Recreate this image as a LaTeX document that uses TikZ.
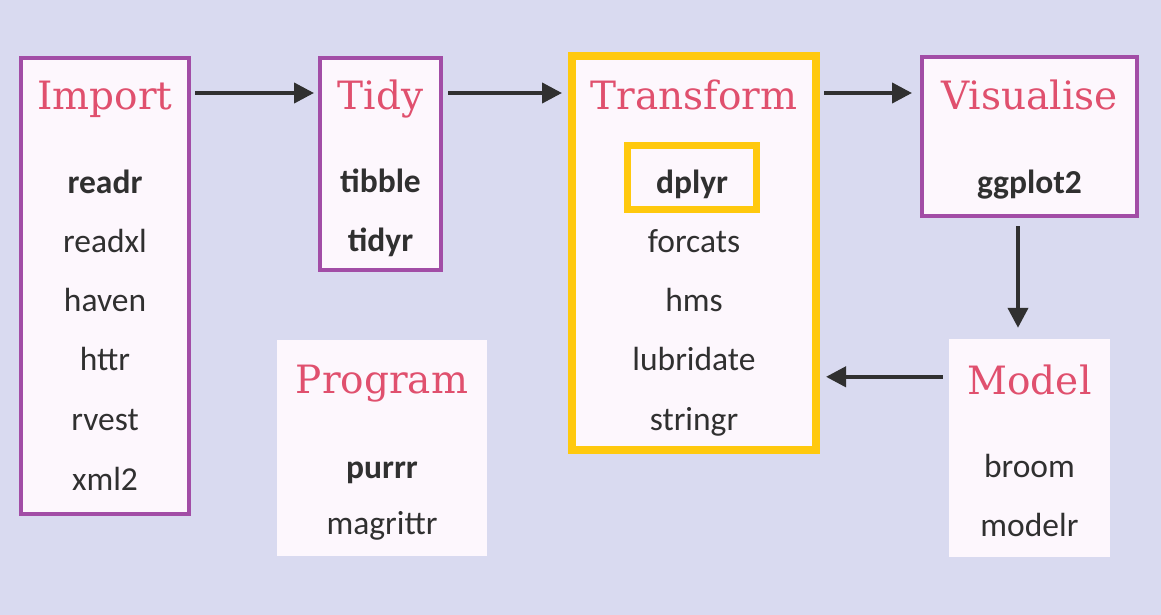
\documentclass[tikz,border=0pt]{standalone}
\usepackage{fontspec}
\usetikzlibrary{arrows.meta}
\newfontfamily\bodyfont{Carlito}
\newfontfamily\headfont{DejaVu Serif}
\definecolor{bgcol}{HTML}{D9DAF0}
\definecolor{boxfill}{HTML}{FDF7FD}
\definecolor{frame}{HTML}{A24DA6}
\definecolor{hilite}{HTML}{FFC90E}
\definecolor{heading}{HTML}{E0506E}
\definecolor{ink}{HTML}{303030}
\tikzset{
  card/.style={rectangle, fill=boxfill, inner sep=0pt},
  stage/.style={card, draw=frame, line width=4pt},
  focus/.style={card, draw=hilite, line width=8pt},
  title/.style={anchor=base, inner sep=0pt, text=heading, font=\headfont\fontsize{39}{44}\selectfont},
  pkg/.style={anchor=base, inner sep=0pt, text=ink, font=\bodyfont\fontsize{33.5}{36}\selectfont},
  mainpkg/.style={pkg, font=\bodyfont\bfseries\fontsize{33.5}{36}\selectfont},
  flow/.style={draw=ink, line width=4pt, -{Triangle[length=20pt,width=20pt]}},
}
\begin{document}
\begin{tikzpicture}[x=1pt,y=-1pt]
  \fill[bgcol] (0,0) rectangle (1161,615);
  \useasboundingbox (0,0) rectangle (1161,615);

  % stage boxes
  \node[stage, minimum width=168pt, minimum height=456pt] (import) at (105,286) {};
  \node[stage, minimum width=121pt, minimum height=212pt] (tidy) at (380.5,164) {};
  \node[focus, minimum width=244pt, minimum height=394pt] (transform) at (694,253) {};
  \node[card, draw=hilite, line width=7pt, minimum width=129pt, minimum height=64pt] (dplyrbox) at (692,177.5) {};
  \node[stage, minimum width=215pt, minimum height=159pt] (visualise) at (1029.5,136.5) {};
  \node[card, minimum width=161pt, minimum height=218pt] (model) at (1029.5,448) {};
  \node[card, minimum width=210pt, minimum height=216pt] (program) at (382,448) {};

  % Import
  \node[title] (t-import) at (105,110) {Import};
  \node[mainpkg] (readr) at (105,193) {readr};
  \node[pkg] (readxl) at (105,252) {readxl};
  \node[pkg] (haven) at (105,311) {haven};
  \node[pkg] (httr) at (105,370) {httr};
  \node[pkg] (rvest) at (105,430) {rvest};
  \node[pkg] (xml2) at (105,490) {xml2};

  % Tidy
  \node[title] (t-tidy) at (380.5,110) {Tidy};
  \node[mainpkg] (tibble) at (380.5,192) {tibble};
  \node[mainpkg] (tidyr) at (380.5,251) {tidyr};

  % Transform
  \node[title] (t-transform) at (694,110) {Transform};
  \node[mainpkg] (dplyr) at (692,193) {dplyr};
  \node[pkg] (forcats) at (694,252) {forcats};
  \node[pkg] (hms) at (694,311) {hms};
  \node[pkg] (lubridate) at (694,370) {lubridate};
  \node[pkg] (stringr) at (694,430) {stringr};

  % Visualise
  \node[title] (t-visualise) at (1029.5,110) {Visualise};
  \node[mainpkg] (ggplot2) at (1029.5,193) {ggplot2};

  % Model
  \node[title] (t-model) at (1029.5,394) {Model};
  \node[pkg] (broom) at (1029.5,477) {broom};
  \node[pkg] (modelr) at (1029.5,536) {modelr};

  % Program
  \node[title] (t-program) at (382,393) {Program};
  \node[mainpkg] (purrr) at (382,478) {purrr};
  \node[pkg] (magrittr) at (382,534) {magrittr};

  % workflow arrows (top row runs along one horizontal line)
  \draw[flow, shorten <=4pt, shorten >=4pt]
    ([yshift=-37pt]import.north east) -- ([yshift=-37pt]import.north east -| tidy.west);
  \draw[flow, shorten <=5pt, shorten >=6pt]
    ([yshift=-37pt]tidy.north east) -- ([yshift=-37pt]tidy.north east -| transform.west);
  \draw[flow, shorten <=4pt, shorten >=8pt]
    ([yshift=-37pt]import.north east -| transform.east) -- ([yshift=-37pt]import.north east -| visualise.west);
  \draw[flow, shorten <=8pt, shorten >=11pt]
    ([xshift=-11.5pt]visualise.south) -- ([xshift=-11.5pt]model.north);
  \draw[flow, shorten <=6pt, shorten >=6pt]
    ([yshift=-38pt]model.north west) -- ([yshift=-38pt]model.north west -| transform.east);
\end{tikzpicture}
\end{document}
